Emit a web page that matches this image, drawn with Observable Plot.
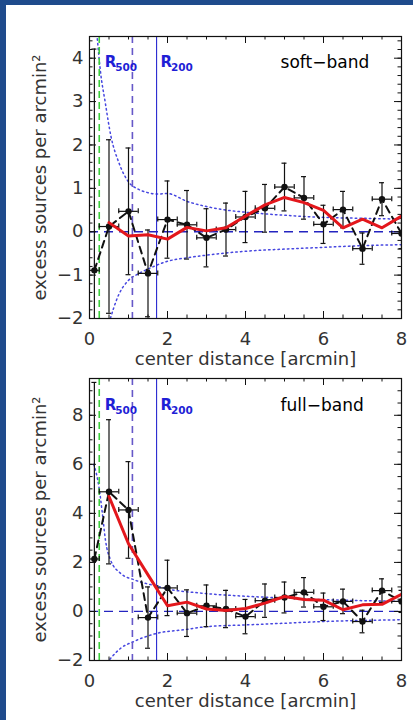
<!DOCTYPE html>
<html>
<head>
<meta charset="utf-8">
<script src="https://cdn.jsdelivr.net/npm/d3@7"></script>
<script src="https://cdn.jsdelivr.net/npm/@observablehq/plot@0.6"></script>
<style>
  body { margin: 0; background: #fff; }
  #wrap { position: relative; width: 413px; height: 720px; overflow: hidden; background: #fff; }
  .bt { position: absolute; left: 0; top: 0; width: 413px; height: 5px; background: #1f4b8c; z-index: 2; }
  .bl { position: absolute; left: 0; top: 0; width: 6px; height: 720px; background: #1f4b8c; z-index: 2; }
  #p1 { position: absolute; left: 0; top: 0; z-index: 1; }
  #p2 { position: absolute; left: 0; top: 360px; }
  svg { overflow: visible; }
</style>
</head>
<body>
<div id="wrap"><div class="bt"></div><div class="bl"></div><div id="p1"></div><div id="p2"></div></div>
<script>
// ---- data ----
const xBin = [0.125, 0.5, 1.0, 1.5, 2.0, 2.5, 3.0, 3.5, 4.0, 4.5, 5.0, 5.5, 6.0, 6.5, 7.0, 7.5, 8.0];
const xHalfWidth = [0.125, 0.25, 0.25, 0.25, 0.25, 0.25, 0.25, 0.25, 0.25, 0.25, 0.25, 0.25, 0.25, 0.25, 0.25, 0.25, 0.25];
const softValue = [-0.89, 0.12, 0.47, -0.96, 0.28, 0.16, -0.14, 0.05, 0.34, 0.54, 1.03, 0.78, 0.17, 0.51, -0.39, 0.75, -0.04];
const softError = [5.1, 2.0, 1.46, 1.0, 0.89, 0.79, 0.67, 0.61, 0.59, 0.55, 0.55, 0.49, 0.44, 0.42, 0.36, 0.38, 0.35];
const fullValue = [2.14, 4.88, 4.14, -0.25, 0.96, -0.07, 0.23, 0.1, -0.21, 0.44, 0.57, 0.78, 0.19, 0.41, -0.41, 0.85, 0.41];
const fullError = [7.2, 2.94, 1.97, 1.25, 1.13, 0.95, 0.85, 0.76, 0.7, 0.68, 0.63, 0.6, 0.56, 0.5, 0.46, 0.48, 0.45];

const smoothX = [0.5, 1.0, 1.5, 2.0, 2.5, 3.0, 3.5, 4.0, 4.5, 5.0, 5.5, 6.0, 6.5, 7.0, 7.5, 8.0];
const softSmooth = [0.21, -0.1, -0.07, -0.17, 0.1, 0.02, 0.09, 0.36, 0.62, 0.79, 0.67, 0.49, 0.09, 0.29, 0.09, 0.36];
const fullSmooth = [4.69, 2.76, 1.49, 0.23, 0.38, 0.1, 0.04, 0.12, 0.34, 0.61, 0.49, 0.46, 0.07, 0.27, 0.29, 0.7];

const softUpperX = [0.2, 0.28, 0.4, 0.55, 0.75, 1.0, 1.25, 1.5, 1.75, 2.0, 2.5, 3.0, 3.5, 4.0, 5.0, 6.0, 7.0, 8.0];
const softUpper = [4.45, 3.7, 3.0, 2.2, 1.6, 1.15, 0.98, 0.9, 0.87, 0.88, 0.7, 0.58, 0.5, 0.45, 0.38, 0.33, 0.31, 0.29];
const softLowerX = [0.5, 0.75, 1.0, 1.25, 1.5, 2.0, 2.5, 3.0, 4.0, 5.0, 6.0, 7.0, 8.0];
const softLower = [-2.1, -1.45, -1.12, -0.97, -0.86, -0.68, -0.6, -0.54, -0.45, -0.4, -0.36, -0.32, -0.3];

const fullUpperX = [0.11, 0.24, 0.33, 0.41, 0.54, 0.8, 1.13, 1.73, 2.0, 2.85, 4.0, 5.0, 6.0, 7.0, 8.0];
const fullUpper = [6.0, 5.1, 4.0, 2.9, 2.1, 1.55, 1.3, 1.03, 0.92, 0.75, 0.62, 0.55, 0.48, 0.44, 0.41];
const fullLowerX = [0.45, 0.55, 0.8, 1.13, 1.73, 2.4, 3.0, 4.0, 5.0, 6.0, 8.0];
const fullLower = [-2.1, -1.9, -1.5, -1.23, -0.89, -0.75, -0.62, -0.55, -0.48, -0.41, -0.34];

const coreRadius = 0.25;   // green dashed
const r500 = 1.1;          // dashed blue
const r200 = 1.72;         // solid blue

const xTicks = [0, 2, 4, 6, 8];
const softYTicks = [-2, -1, 0, 1, 2, 3, 4];
const fullYTicks = [-2, 0, 2, 4, 6, 8];
const bandNames = ["soft\u2212band", "full\u2212band"];
const xLabel = "center distance [arcmin]";
const yLabel = "excess sources per arcmin\u00b2";

// ---- drawing ----
const FONT = "DejaVu Sans";
const W = 413, H = 360, ML = 89, MR = 12;
const innerW = W - ML - MR, innerH = 282;

function panel(cfg) {
  const {yDomain, yTicks, yMinorStep, values, errors, smooth, upX, up, loX, lo, band, marginTop, labelY} = cfg;
  const marginBottom = H - marginTop - innerH;
  const pts = xBin.map((x, i) => ({x, xe: xHalfWidth[i], y: values[i], e: errors[i]}));
  const sm = smoothX.map((x, i) => ({x, y: smooth[i]}));
  const upper = upX.map((x, i) => ({x, y: up[i]}));
  const lower = loX.map((x, i) => ({x, y: lo[i]}));
  const pxX = innerW / 8, pxY = innerH / (yDomain[1] - yDomain[0]);
  const capX = 2.5 / pxX, capY = 2.5 / pxY;
  const xMinor = d3.range(0, 8.0001, 0.5);
  const yMinor = d3.range(Math.ceil(yDomain[0] / yMinorStep) * yMinorStep, yDomain[1] + 1e-6, yMinorStep);
  const maj = 7, mino = 3.5;
  const blue = "#1f1fd6";
  return Plot.plot({
    width: W, height: H,
    marginLeft: ML, marginRight: MR, marginTop, marginBottom,
    style: {fontFamily: FONT, background: "transparent", overflow: "visible"},
    x: {domain: [0, 8], axis: null},
    y: {domain: yDomain, axis: null},
    marks: [
      // dotted envelopes
      Plot.line(upper, {x: "x", y: "y", stroke: "#4646e0", strokeWidth: 1.5, strokeDasharray: "1.5,3.2", curve: "monotone-x", clip: true}),
      Plot.line(lower, {x: "x", y: "y", stroke: "#4646e0", strokeWidth: 1.5, strokeDasharray: "1.5,3.2", curve: "monotone-x", clip: true}),
      // zero line
      Plot.ruleY([0], {stroke: "#2424c0", strokeWidth: 1.3, strokeDasharray: "9,6"}),
      // radii
      Plot.ruleX([coreRadius], {stroke: "#3ccf3c", strokeWidth: 1.6, strokeDasharray: "7,4"}),
      Plot.ruleX([r500], {stroke: "#6658c8", strokeWidth: 1.6, strokeDasharray: "7,5"}),
      Plot.ruleX([r200], {stroke: "#2a2ad0", strokeWidth: 1.1}),
      // error bars
      Plot.ruleX(pts, {x: "x", y1: d => d.y - d.e, y2: d => d.y + d.e, stroke: "#111", strokeWidth: 1.2, clip: true}),
      Plot.ruleY(pts, {y: d => d.y + d.e, x1: d => d.x - capX, x2: d => d.x + capX, stroke: "#111", strokeWidth: 1.2, clip: true}),
      Plot.ruleY(pts, {y: d => d.y - d.e, x1: d => d.x - capX, x2: d => d.x + capX, stroke: "#111", strokeWidth: 1.2, clip: true}),
      Plot.ruleY(pts, {y: "y", x1: d => d.x - d.xe, x2: d => d.x + d.xe, stroke: "#111", strokeWidth: 1.2, clip: true}),
      Plot.ruleX(pts, {x: d => d.x - d.xe, y1: d => d.y - capY, y2: d => d.y + capY, stroke: "#111", strokeWidth: 1.2, clip: true}),
      Plot.ruleX(pts, {x: d => d.x + d.xe, y1: d => d.y - capY, y2: d => d.y + capY, stroke: "#111", strokeWidth: 1.2, clip: true}),
      // connecting dashed line + points
      Plot.line(pts, {x: "x", y: "y", stroke: "#111", strokeWidth: 2, strokeDasharray: "7,5", clip: true}),
      Plot.dot(pts, {x: "x", y: "y", r: 3.2, fill: "#111", stroke: "none", clip: true}),
      // smoothed red line
      Plot.line(sm, {x: "x", y: "y", stroke: "#e3171c", strokeWidth: 3, clip: true}),
      // frame and inward ticks on all sides
      Plot.frame({stroke: "#111", strokeWidth: 1.2}),
      Plot.ruleX(xTicks, {insetTop: innerH - maj, stroke: "#111"}),
      Plot.ruleX(xTicks, {insetBottom: innerH - maj, stroke: "#111"}),
      Plot.ruleX(xMinor, {insetTop: innerH - mino, stroke: "#111"}),
      Plot.ruleX(xMinor, {insetBottom: innerH - mino, stroke: "#111"}),
      Plot.ruleY(yTicks, {insetRight: innerW - maj, stroke: "#111"}),
      Plot.ruleY(yTicks, {insetLeft: innerW - maj, stroke: "#111"}),
      Plot.ruleY(yMinor, {insetRight: innerW - mino, stroke: "#111"}),
      Plot.ruleY(yMinor, {insetLeft: innerW - mino, stroke: "#111"}),
      // tick labels
      Plot.text(xTicks, {x: d => d, frameAnchor: "bottom", dy: 21, text: d => String(d), fontSize: 18, fill: "#333", textAnchor: "middle", lineAnchor: "middle"}),
      Plot.text(yTicks, {y: d => d, frameAnchor: "left", dx: -6, text: d => d < 0 ? "\u2212" + Math.abs(d) : String(d), fontSize: 18, fill: "#333", textAnchor: "end", lineAnchor: "middle"}),
      // axis titles
      Plot.text([xLabel], {frameAnchor: "bottom", dy: 41, text: d => d, fontSize: 18, fill: "#333", textAnchor: "middle", lineAnchor: "middle"}),
      Plot.text([yLabel], {frameAnchor: "left", dx: -49, rotate: -90, text: d => d, fontSize: 18, fill: "#333", textAnchor: "middle", lineAnchor: "middle"}),
      // annotations
      Plot.text(["R"], {x: 0.39, y: labelY, text: d => d, fontSize: 15, fontWeight: "bold", fill: blue, textAnchor: "start", lineAnchor: "middle"}),
      Plot.text(["500"], {x: 0.39, y: labelY, dx: 10.5, dy: 5, text: d => d, fontSize: 10.5, fontWeight: "bold", fill: blue, textAnchor: "start", lineAnchor: "middle"}),
      Plot.text(["R"], {x: 1.82, y: labelY, text: d => d, fontSize: 15, fontWeight: "bold", fill: blue, textAnchor: "start", lineAnchor: "middle"}),
      Plot.text(["200"], {x: 1.82, y: labelY, dx: 10.5, dy: 5, text: d => d, fontSize: 10.5, fontWeight: "bold", fill: blue, textAnchor: "start", lineAnchor: "middle"}),
      Plot.text([band], {x: 4.9, y: labelY, text: d => d, fontSize: 17, fill: "#000", textAnchor: "start", lineAnchor: "middle"})
    ]
  });
}

document.getElementById("p1").appendChild(panel({
  yDomain: [-2, 4.5], yTicks: softYTicks, yMinorStep: 0.2,
  values: softValue, errors: softError, smooth: softSmooth,
  upX: softUpperX, up: softUpper, loX: softLowerX, lo: softLower,
  band: bandNames[0], marginTop: 36, labelY: 3.9
}));
document.getElementById("p2").appendChild(panel({
  yDomain: [-2, 9.5], yTicks: fullYTicks, yMinorStep: 0.5,
  values: fullValue, errors: fullError, smooth: fullSmooth,
  upX: fullUpperX, up: fullUpper, loX: fullLowerX, lo: fullLower,
  band: bandNames[1], marginTop: 18, labelY: 8.4
}));
</script>
</body>
</html>
